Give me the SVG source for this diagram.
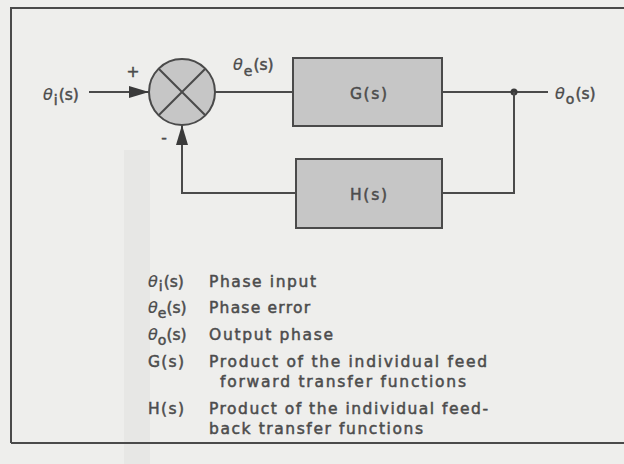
<svg xmlns="http://www.w3.org/2000/svg" width="624" height="464" viewBox="0 0 624 464">
<defs>
<style>
.t{font-family:"DejaVu Sans","Liberation Sans",sans-serif;fill:#4c4c4c;stroke:#4c4c4c;stroke-width:0.5;font-size:15.5px}
.th{font-style:italic;stroke-width:0.2;font-size:16px}
.sub{font-size:14px}
.ln{stroke:#4a4a4a;stroke-width:2;fill:none}
.box{fill:#c6c6c6;stroke:#4a4a4a;stroke-width:2}
</style>
<marker id="ah" markerUnits="userSpaceOnUse" markerWidth="22" markerHeight="14" refX="20" refY="6" orient="auto">
<path d="M0,0 L20,6 L0,12 Z" fill="#3a3a3a"/>
</marker>
</defs>
<rect width="624" height="464" fill="#eeeeec"/>
<rect x="124" y="150" width="26" height="314" fill="#e7e7e5"/>
<path d="M11,443 V8 H624" class="ln"/>
<line x1="11" y1="443" x2="624" y2="443" class="ln" stroke-width="1.5"/>

<g id="connectors">
<line x1="89" y1="92" x2="149" y2="92" class="ln" marker-end="url(#ah)"/>
<line x1="215" y1="92" x2="293" y2="92" class="ln"/>
<line x1="442" y1="92" x2="548" y2="92" class="ln"/>
<circle cx="514" cy="92" r="3.5" fill="#3a3a3a"/>
<polyline points="514,92 514,193 442,193" class="ln"/>
<polyline points="296,193 182,193 182,125" class="ln" marker-end="url(#ah)"/>
</g>

<g id="sum">
<circle cx="182" cy="92" r="33" fill="#c6c6c6" stroke="#4a4a4a" stroke-width="2"/>
<line x1="158.7" y1="68.7" x2="205.3" y2="115.3" class="ln"/>
<line x1="205.3" y1="68.7" x2="158.7" y2="115.3" class="ln"/>
<text x="133" y="77" class="t" text-anchor="middle" font-size="15">+</text>
<text x="164" y="143" class="t" text-anchor="middle" font-size="16">-</text>
</g>

<g id="G">
<rect x="293" y="58" width="149" height="68" class="box"/>
<text x="350" y="99" class="t" font-size="16" textLength="37" lengthAdjust="spacing">G(s)</text>
</g>

<g id="H">
<rect x="296" y="159" width="146" height="69" class="box"/>
<text x="350" y="200" class="t" font-size="16" textLength="37" lengthAdjust="spacing">H(s)</text>
</g>

<g id="labels">
<text x="43" y="100" class="t"><tspan class="th">θ</tspan><tspan class="sub" dy="5" dx="1">i</tspan><tspan dy="-5" dx="1">(s)</tspan></text>
<text x="233" y="70" class="t"><tspan class="th">θ</tspan><tspan class="sub" dy="6" dx="1">e</tspan><tspan dy="-6" dx="1">(s)</tspan></text>
<text x="555" y="99" class="t"><tspan class="th">θ</tspan><tspan class="sub" dy="5" dx="1">o</tspan><tspan dy="-5" dx="1">(s)</tspan></text>
</g>

<g id="legend">
<text x="148" y="287" class="t"><tspan class="th">θ</tspan><tspan class="sub" dy="4" dx="1">i</tspan><tspan dy="-4" dx="1">(s)</tspan></text>
<text x="148" y="313" class="t"><tspan class="th">θ</tspan><tspan class="sub" dy="5">e</tspan><tspan dy="-5">(s)</tspan></text>
<text x="148" y="340" class="t"><tspan class="th">θ</tspan><tspan class="sub" dy="5">o</tspan><tspan dy="-5">(s)</tspan></text>
<text x="148" y="367" class="t" textLength="36" lengthAdjust="spacing">G(s)</text>
<text x="148" y="414" class="t" textLength="36" lengthAdjust="spacing">H(s)</text>
<text x="209" y="287" class="t" textLength="107" lengthAdjust="spacing">Phase input</text>
<text x="209" y="313" class="t" textLength="101" lengthAdjust="spacing">Phase error</text>
<text x="209" y="340" class="t" textLength="124" lengthAdjust="spacing">Output phase</text>
<text x="209" y="367" class="t" textLength="278" lengthAdjust="spacing">Product of the individual feed</text>
<text x="220" y="387" class="t" textLength="246" lengthAdjust="spacing">forward transfer functions</text>
<text x="209" y="414" class="t" textLength="279" lengthAdjust="spacing">Product of the individual feed-</text>
<text x="209" y="434" class="t" textLength="214" lengthAdjust="spacing">back transfer functions</text>
</g>
</svg>
